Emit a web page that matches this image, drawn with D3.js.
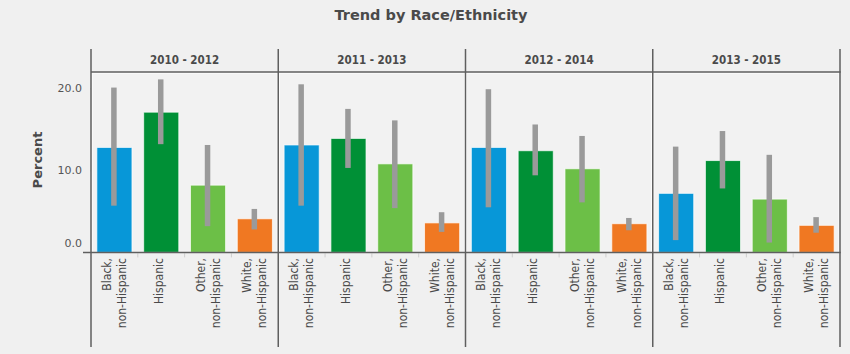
<!DOCTYPE html>
<html>
<head>
<meta charset="utf-8">
<script src="https://cdn.jsdelivr.net/npm/d3@7"></script>
<style>
  html, body { margin: 0; padding: 0; background: #f0f0f0; }
  svg { display: block; }
</style>
</head>
<body>
<svg id="chart" width="850" height="354"></svg>
<script>
const periods = ["2010 - 2012", "2011 - 2013", "2012 - 2014", "2013 - 2015"];
const groups = ["Black, non-Hispanic", "Hispanic", "Other, non-Hispanic", "White, non-Hispanic"];
const groupLines = [["Black,", "non-Hispanic"], ["Hispanic"], ["Other,", "non-Hispanic"], ["White,", "non-Hispanic"]];
const colors = ["#0797d8", "#009036", "#6cbf47", "#f07822"];
// values by period, in group order
const values = [
  [12.8, 17.1, 8.2, 4.1],
  [13.1, 13.9, 10.8, 3.6],
  [12.8, 12.4, 10.2, 3.5],
  [7.2, 11.2, 6.5, 3.3]
];
const lowerCI = [
  [5.7, 13.2, 3.2, 2.8],
  [5.7, 10.3, 5.4, 2.5],
  [5.5, 9.4, 6.1, 2.7],
  [1.5, 7.8, 1.2, 2.4]
];
const upperCI = [
  [20.1, 21.1, 13.1, 5.3],
  [20.5, 17.5, 16.1, 4.9],
  [19.9, 15.6, 14.2, 4.2],
  [12.9, 14.8, 11.9, 4.3]
];
const yTicks = [0, 10, 20];

const svg = d3.select("#chart");
const left = 91, right = 840, stripTop = 49, plotTop = 72, plotBottom = 252.4, lineBottom = 347;
const textColor = "#4a4a4a";
const lineColor = "#5f5f5f";

const fx = d3.scaleBand().domain(periods).range([left, right]);
const y = d3.scaleLinear().domain([0, 22]).range([plotBottom, plotTop]);

// title
svg.append("text")
  .attr("x", 431).attr("y", 19.5)
  .attr("text-anchor", "middle")
  .style("font-family", "'DejaVu Sans', sans-serif")
  .style("font-weight", "bold").style("font-size", "14.5px")
  .attr("fill", textColor)
  .text("Trend by Race/Ethnicity");

// y label
svg.append("text")
  .attr("transform", "translate(42,160) rotate(-90)")
  .attr("text-anchor", "middle")
  .style("font-family", "'DejaVu Sans', sans-serif")
  .style("font-weight", "bold").style("font-size", "13px")
  .attr("fill", textColor)
  .text("Percent");

// panels
periods.forEach((p, pi) => {
  const px = fx(p);
  const g = svg.append("g");
  g.append("rect")
    .attr("x", px + 1).attr("y", plotTop + 1)
    .attr("width", fx.bandwidth() - 2).attr("height", plotBottom - plotTop - 1)
    .attr("fill", "#f2f2f2").attr("stroke", "#ffffff").attr("stroke-width", 1);

  g.append("text")
    .attr("x", px + fx.bandwidth() / 2).attr("y", 64)
    .attr("text-anchor", "middle")
    .style("font-family", "'DejaVu Sans Condensed', 'DejaVu Sans', sans-serif")
    .style("font-weight", "bold").style("font-size", "11.5px")
    .attr("fill", textColor)
    .text(p);

  const x = d3.scaleBand().domain(groups).range([px, px + fx.bandwidth()])
    .paddingInner(0.25).paddingOuter(0.125);
  const step = x.step();

  groups.forEach((gr, gi) => {
    const v = values[pi][gi];
    g.append("rect")
      .attr("x", x(gr)).attr("y", y(v))
      .attr("width", x.bandwidth()).attr("height", y(0) - y(v))
      .attr("fill", colors[gi])
      .attr("stroke", "#ffffff").attr("stroke-opacity", 0.7).attr("stroke-width", 1);
    const cx = x(gr) + x.bandwidth() / 2 - 0.5;
    g.append("rect")
      .attr("x", cx - 2.75).attr("y", y(upperCI[pi][gi]))
      .attr("width", 5.5).attr("height", y(lowerCI[pi][gi]) - y(upperCI[pi][gi]))
      .attr("fill", "#9a9a9a");

    // category labels
    const lines = groupLines[gi];
    const c = x(gr) + x.bandwidth() / 2;
    lines.forEach((ln, li) => {
      const off = lines.length === 1 ? 1.5 : (li === 0 ? -3.5 : 11.5);
      g.append("text")
        .attr("transform", `translate(${c + off},258) rotate(-90)`)
        .attr("text-anchor", "end")
        .style("font-family", "'DejaVu Sans Condensed', 'DejaVu Sans', sans-serif")
        .style("font-size", "12px")
        .attr("fill", textColor)
        .text(ln);
    });
    // small separator ticks at band boundaries
    if (gi > 0) {
      const bx = x(gr) - (step - x.bandwidth()) / 2;
      g.append("line")
        .attr("x1", bx).attr("x2", bx)
        .attr("y1", plotBottom + 1).attr("y2", plotBottom + 5)
        .attr("stroke", "#cfcfcf").attr("stroke-width", 1);
    }
  });
});

// y axis labels & ticks
const yAxis = svg.append("g").attr("transform", `translate(${left},0)`)
  .call(d3.axisLeft(y).tickValues(yTicks).tickFormat(d3.format(".1f")).tickSize(6).tickPadding(3));
yAxis.select(".domain").remove();
yAxis.selectAll(".tick line").attr("stroke", "#cccccc").attr("x2", -1);
yAxis.selectAll(".tick text")
  .style("font-family", "'DejaVu Sans', sans-serif")
  .style("font-size", "11px")
  .attr("fill", "#555")
  .attr("dy", d => d === 0 ? "-0.5em" : "0.32em");
yAxis.selectAll(".tick").filter(d => d === 0).select("line").remove();

// frame lines
const bounds = periods.map(p => fx(p)).concat([right]);
svg.selectAll(".vline").data(bounds).enter().append("line")
  .attr("x1", d => d).attr("x2", d => d)
  .attr("y1", stripTop).attr("y2", lineBottom)
  .attr("stroke", lineColor).attr("stroke-width", 1.5);
svg.append("line")
  .attr("x1", left).attr("x2", right + 0.75)
  .attr("y1", plotTop).attr("y2", plotTop)
  .attr("stroke", lineColor).attr("stroke-width", 1.5);
svg.append("line")
  .attr("x1", 83).attr("x2", right + 0.75)
  .attr("y1", plotBottom).attr("y2", plotBottom)
  .attr("stroke", lineColor).attr("stroke-width", 1.5);
</script>
</body>
</html>
